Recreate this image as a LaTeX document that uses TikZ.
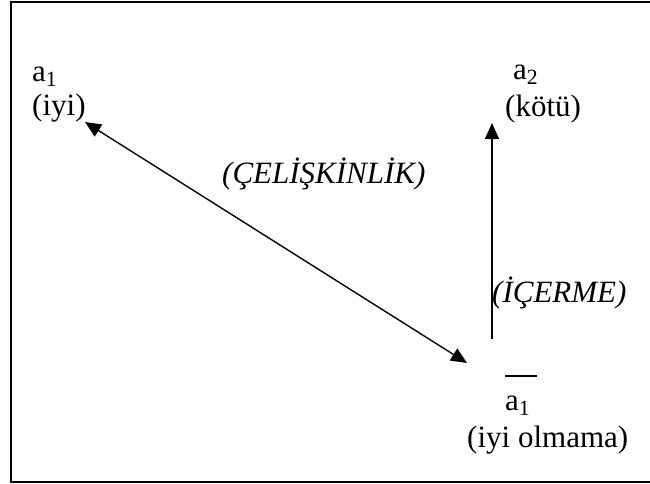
\documentclass[tikz,border=0pt]{standalone}
\usepackage{fontspec}
\setmainfont{Liberation Serif}
\usepackage{tikz}
\usetikzlibrary{arrows.meta, positioning}
\tikzset{
  lbl/.style={anchor=base west, inner sep=0pt, font=\fontsize{31}{36}\selectfont},
  ilbl/.style={lbl, font=\fontsize{31}{36}\selectfont\itshape},
  arrow/.style={-{Triangle[length=16pt, width=14pt]}, line width=1.4pt},
  dblarrow/.style={{Triangle[length=16pt, width=14pt]}-{Triangle[length=16pt, width=14pt]}, line width=1.4pt}
}

\begin{document}
\begin{tikzpicture}[x=1pt, y=-1pt]
  \useasboundingbox (0,0) rectangle (650,483);
  % frame (right edge falls outside the page)
  \draw[line width=1.5pt] (11,2) rectangle (660,482);

  % a1 (iyi)
  \node[lbl] (aone) at (32,81) {a\textsubscript{1}};
  \node[lbl] (iyi) at (32,115) {(iyi)};

  % a2 (kotu)
  \node[lbl] (atwo) at (513,79) {a\textsubscript{2}};
  \node[lbl] (kotu) at (505,116) {(kötü)};

  % a1 bar (iyi olmama)
  \coordinate (barl) at (505,376);
  \coordinate (barr) at (537,376);
  \draw[line width=1.2pt] (barl) -- (barr);
  \node[lbl] (aonebar) at (505,410) {a\textsubscript{1}};
  \node[lbl] (olmama) at (467,447) {(iyi olmama)};

  % relation labels
  \node[ilbl] (celiski) at (222,183) {(ÇELİŞKİNLİK)};
  \node[ilbl] (icerme) at (492,302) {(İÇERME)};

  % arrow ends
  \coordinate (iyiucu) at (85,122);
  \coordinate (olmaucu) at (467,363);
  \coordinate (icalt) at (492,339);
  \coordinate (icust) at (492,123);

  \draw[dblarrow] (iyiucu) -- (olmaucu);
  \draw[arrow] (icalt) -- (icust);
\end{tikzpicture}
\end{document}
